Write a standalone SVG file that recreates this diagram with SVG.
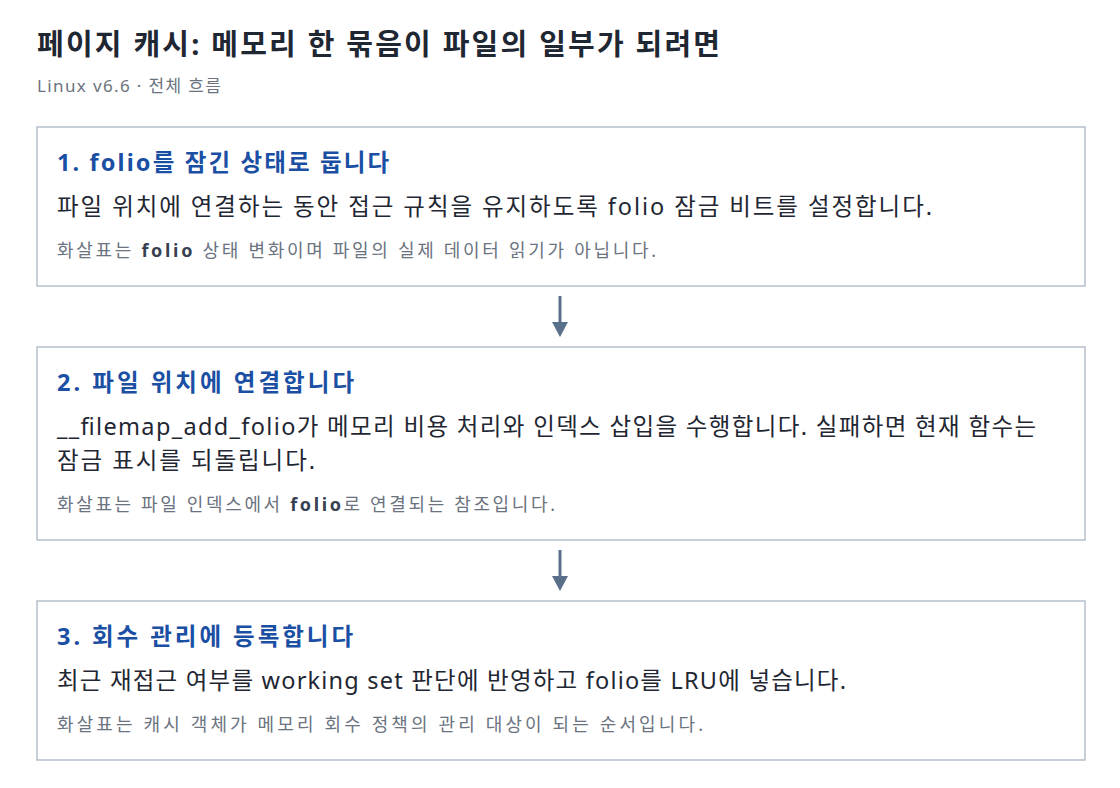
<svg xmlns="http://www.w3.org/2000/svg" width="1120" height="788" viewBox="0 0 1120 788">
<defs>
<style>
text{font-family:"Noto Sans","Noto Sans CJK KR",sans-serif}
.title{font-size:29px;font-weight:700;fill:#1f2733}
.sub{font-size:17px;fill:#6b7380}
.card{fill:#ffffff;stroke:#aab6c4;stroke-width:1.3}
.h{font-size:23.5px;font-weight:700;fill:#1a4fa3}
.b{font-size:23.5px;fill:#1f2733}
.n{font-size:18px;fill:#6b7380}
.n tspan.k{font-weight:700;fill:#374151}
.edge{stroke:#587089;stroke-width:3;fill:none}
</style>
<marker id="ah" markerWidth="16" markerHeight="16" viewBox="0 0 16 16" refX="0" refY="8" orient="auto" markerUnits="userSpaceOnUse">
<path d="M0,0 L15,8 L0,16 Z" fill="#587089"/>
</marker>
</defs>
<rect width="1120" height="788" fill="#ffffff"/>
<text class="title" x="37" y="55" textLength="683" lengthAdjust="spacing">페이지 캐시: 메모리 한 묶음이 파일의 일부가 되려면</text>
<text class="sub" x="37" y="92" textLength="184" lengthAdjust="spacing">Linux v6.6 · 전체 흐름</text>
<g id="node1">
<rect class="card" x="37" y="127" width="1048" height="159"/>
<text class="h" x="57" y="171" textLength="332" lengthAdjust="spacing">1. folio를 잠긴 상태로 둡니다</text>
<text class="b" x="57" y="215" textLength="875" lengthAdjust="spacing">파일 위치에 연결하는 동안 접근 규칙을 유지하도록 folio 잠금 비트를 설정합니다.</text>
<text class="n" x="57" y="257" textLength="599" lengthAdjust="spacing">화살표는 <tspan class="k">folio</tspan> 상태 변화이며 파일의 실제 데이터 읽기가 아닙니다.</text>
</g>
<g id="node2">
<rect class="card" x="37" y="347" width="1048" height="193"/>
<text class="h" x="57" y="391" textLength="297" lengthAdjust="spacing">2. 파일 위치에 연결합니다</text>
<text class="b" x="57" y="435" textLength="979" lengthAdjust="spacing">__filemap_add_folio가 메모리 비용 처리와 인덱스 삽입을 수행합니다. 실패하면 현재 함수는</text>
<text class="b" x="57" y="469" textLength="258" lengthAdjust="spacing">잠금 표시를 되돌립니다.</text>
<text class="n" x="57" y="511" textLength="498" lengthAdjust="spacing">화살표는 파일 인덱스에서 <tspan class="k">folio</tspan>로 연결되는 참조입니다.</text>
</g>
<g id="node3">
<rect class="card" x="37" y="601" width="1048" height="159"/>
<text class="h" x="57" y="645" textLength="296" lengthAdjust="spacing">3. 회수 관리에 등록합니다</text>
<text class="b" x="57" y="689" textLength="789" lengthAdjust="spacing">최근 재접근 여부를 working set 판단에 반영하고 folio를 LRU에 넣습니다.</text>
<text class="n" x="57" y="731" textLength="646" lengthAdjust="spacing">화살표는 캐시 객체가 메모리 회수 정책의 관리 대상이 되는 순서입니다.</text>
</g>
<g id="connectors">
<line class="edge" x1="560" y1="296" x2="560" y2="322" marker-end="url(#ah)"/>
<line class="edge" x1="560" y1="550" x2="560" y2="576" marker-end="url(#ah)"/>
</g>
</svg>
